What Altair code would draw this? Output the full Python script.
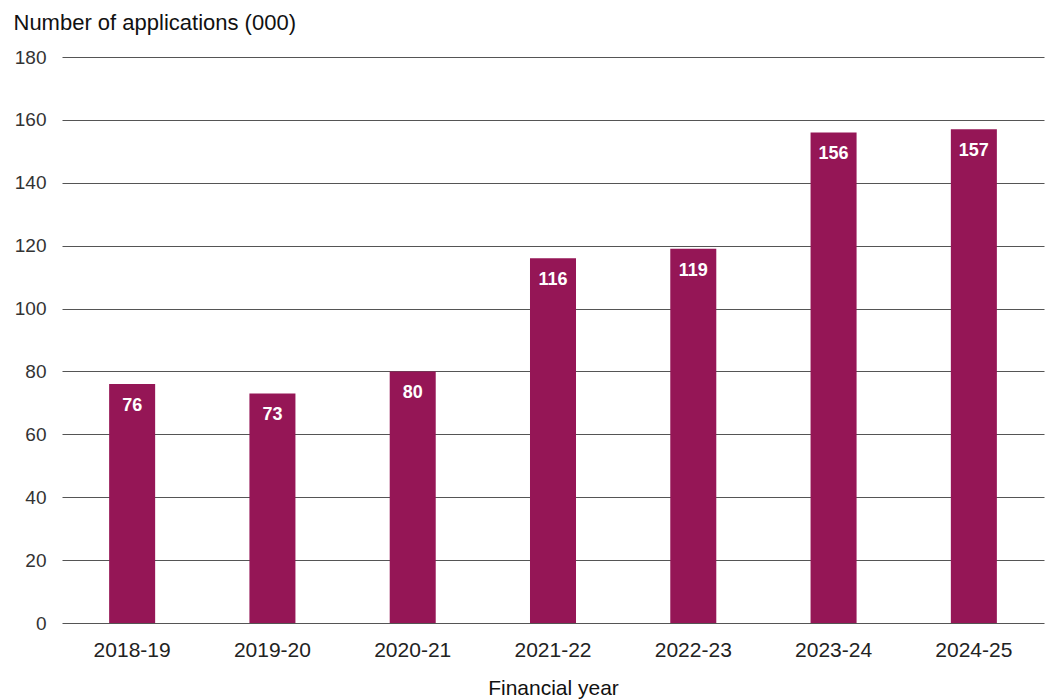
import altair as alt
import pandas as pd

years = ["2018-19", "2019-20", "2020-21", "2021-22", "2022-23", "2023-24", "2024-25"]
applications = [76, 73, 80, 116, 119, 156, 157]

df = pd.DataFrame({"year": years, "apps": applications})

FONT = "Liberation Sans"
COLOR = "#951656"

base = alt.Chart(df).encode(
    x=alt.X(
        "year:N",
        sort=years,
        scale=alt.Scale(paddingInner=0.672, paddingOuter=0.336),
        axis=alt.Axis(
            title="Financial year",
            labelAngle=0,
            labelFontSize=21,
            labelColor="#222222",
            labelBaseline="alphabetic",
            labelPadding=33,
            ticks=False,
            domain=False,
            titleFontSize=21,
            titleFontWeight="normal",
            titleColor="#111111",
            titleBaseline="alphabetic",
            titleY=71,
        ),
    ),
    y=alt.Y(
        "apps:Q",
        scale=alt.Scale(domain=[0, 180]),
        axis=alt.Axis(
            values=list(range(0, 181, 20)),
            title="Number of applications (000)",
            titleAngle=0,
            titleAlign="left",
            titleBaseline="alphabetic",
            titleX=-49,
            titleY=-28,
            titleFontSize=22,
            titleFontWeight="normal",
            titleColor="#111111",
            labelFontSize=19,
            labelColor="#333333",
            labelPadding=16,
            ticks=False,
            domain=False,
            grid=True,
            gridColor="#555555",
            gridWidth=1,
        ),
    ),
)

bars = base.mark_bar(color=COLOR)
labels = base.mark_text(
    color="white",
    fontWeight="bold",
    fontSize=18,
    baseline="alphabetic",
    dy=27,
    font=FONT,
).encode(text="apps:Q")

chart = (
    (bars + labels)
    .properties(
        width=982,
        height=566,
        autosize=alt.AutoSizeParams(type="none"),
        padding={"left": 62, "top": 57, "right": 1, "bottom": 77},
    )
    .configure(font=FONT)
    .configure_view(stroke=None)
)

chart.save("out.html", embed_options={"renderer": "svg", "actions": False})
